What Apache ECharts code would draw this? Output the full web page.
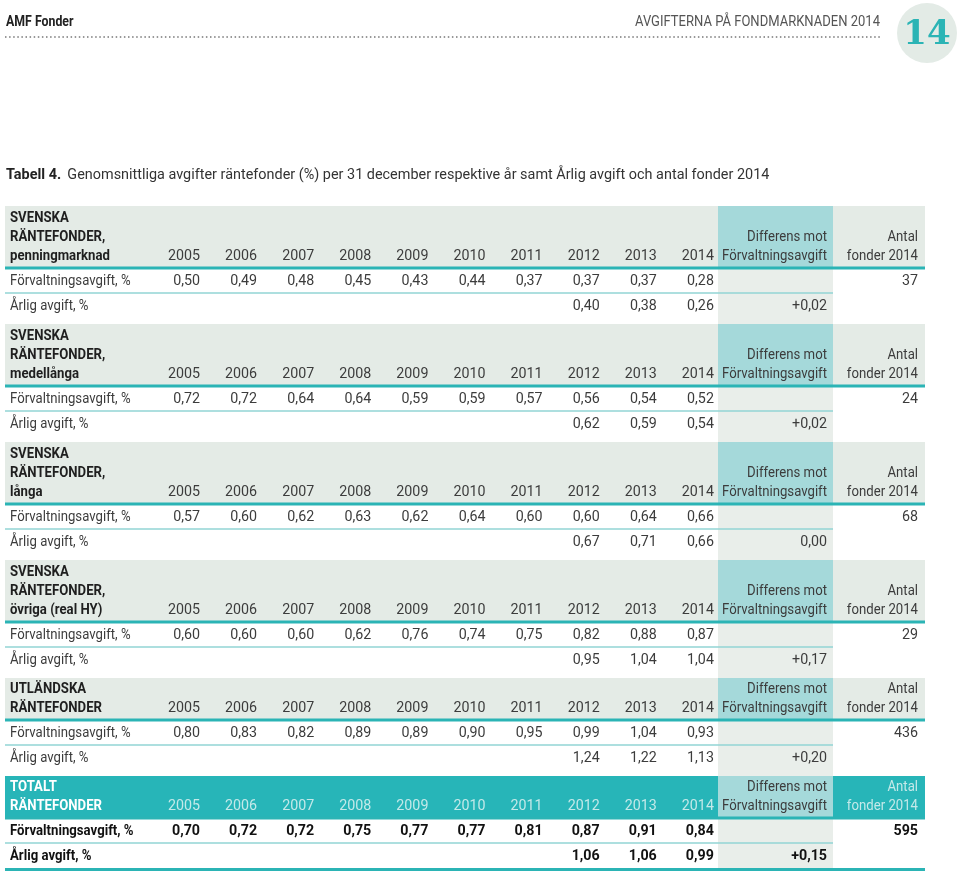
<!DOCTYPE html>
<html><head><meta charset="utf-8">
<script src="https://cdn.jsdelivr.net/npm/echarts@6/dist/echarts.min.js"></script>
<style>html,body{margin:0;padding:0;background:#fff}#c{width:960px;height:874px}</style>
</head><body><div id="c"></div>
<script>
// ---------- data ----------
const years = ['2005','2006','2007','2008','2009','2010','2011','2012','2013','2014'];
const sectionTitles = [
  ['SVENSKA','RÄNTEFONDER,','penningmarknad'],
  ['SVENSKA','RÄNTEFONDER,','medellånga'],
  ['SVENSKA','RÄNTEFONDER,','långa'],
  ['SVENSKA','RÄNTEFONDER,','övriga (real HY)'],
  ['UTLÄNDSKA','RÄNTEFONDER'],
  ['TOTALT','RÄNTEFONDER']
];
const forvPenning   = [0.50,0.49,0.48,0.45,0.43,0.44,0.37,0.37,0.37,0.28];
const forvMedel     = [0.72,0.72,0.64,0.64,0.59,0.59,0.57,0.56,0.54,0.52];
const forvLanga     = [0.57,0.60,0.62,0.63,0.62,0.64,0.60,0.60,0.64,0.66];
const forvOvriga    = [0.60,0.60,0.60,0.62,0.76,0.74,0.75,0.82,0.88,0.87];
const forvUtland    = [0.80,0.83,0.82,0.89,0.89,0.90,0.95,0.99,1.04,0.93];
const forvTotalt    = [0.70,0.72,0.72,0.75,0.77,0.77,0.81,0.87,0.91,0.84];
const arligYears = ['2012','2013','2014'];
const arligPenning = [0.40,0.38,0.26];
const arligMedel   = [0.62,0.59,0.54];
const arligLanga   = [0.67,0.71,0.66];
const arligOvriga  = [0.95,1.04,1.04];
const arligUtland  = [1.24,1.22,1.13];
const arligTotalt  = [1.06,1.06,0.99];
const differens = [0.02,0.02,0.00,0.17,0.20,0.15];
const antalFonder = [37,24,68,29,436,595];
const rowLabels = ['Förvaltningsavgift, %','Årlig avgift, %'];
const diffHeader = ['Differens mot','Förvaltningsavgift'];
const antalHeader = ['Antal','fonder 2014'];
const pageHeaderLeft = 'AMF Fonder';
const pageHeaderRight = 'AVGIFTERNA PÅ FONDMARKNADEN 2014';
const pageNumber = '14';
const tableNo = 'Tabell 4.';
const tableTitle = 'Genomsnittliga avgifter räntefonder (%) per 31 december respektive år samt Årlig avgift och antal fonder 2014';

const forvData = [forvPenning,forvMedel,forvLanga,forvOvriga,forvUtland,forvTotalt];
const arligData = [arligPenning,arligMedel,arligLanga,arligOvriga,arligUtland,arligTotalt];

// ---------- layout ----------
const FONT = 'Roboto, "Noto Sans", sans-serif';
const TEAL = '#2bb4b5';
const L = 5, R = 925, DIFF_L = 718, DIFF_R = 833;
const LABEL_X = 10, DIFF_TX = 827, ANTAL_TX = 918;
const colRight = i => 200 + i * 57.1;
const ROW_H = 25, GAP = 6, LINE_H = 19;
const FS = 15.5, NARROW = 0.85, DIGIT = 0.92;

const fmt = v => v.toFixed(2).replace('.', ',');
const fmtDiff = v => (v > 0 ? '+' : '') + fmt(v);

const els = [];
function txt(x, y, text, opt) {
  opt = opt || {};
  els.push({
    type: 'text', x: x, y: y, z: 10,
    scaleX: opt.sx || 1, originX: 0,
    style: {
      text: text,
      font: (opt.bold ? 'bold ' : '') + (opt.size || FS) + 'px ' + (opt.family || FONT),
      fill: opt.color || '#3c3c3c',
      align: opt.align || 'left', textAlign: opt.align || 'left',
      verticalAlign: 'middle', textVerticalAlign: 'middle'
    }
  });
}
function rect(x, y, w, h, fill, z) {
  els.push({ type: 'rect', z: z || 1, shape: { x: x, y: y, width: w, height: h }, style: { fill: fill } });
}

// page header
txt(6, 22, pageHeaderLeft, { bold: true, size: 14, color: '#222', sx: 0.88 });
txt(880, 22, pageHeaderRight, { size: 14, color: '#555', align: 'right', sx: 0.93 });
els.push({ type: 'line', z: 5, shape: { x1: 5, y1: 37, x2: 880, y2: 37 },
  style: { stroke: '#777', lineWidth: 1.5, lineDash: [1.5, 2.6] } });
els.push({ type: 'circle', z: 1, shape: { cx: 927, cy: 33, r: 30 }, style: { fill: '#e3ebe6' } });
txt(927, 35, pageNumber, { bold: true, size: 34, family: '"DejaVu Serif", serif', color: TEAL, align: 'center' });

// title
els.push({ type: 'text', x: 6, y: 175, z: 10, scaleX: 0.93, originX: 0, style: {
  text: '{b|' + tableNo + '}  {n|' + tableTitle + '}',
  rich: { b: { font: 'bold 15.5px ' + FONT, fill: '#222' }, n: { font: '15.5px ' + FONT, fill: '#333' } },
  verticalAlign: 'middle', textVerticalAlign: 'middle' } });

// sections
let secTop = 206;
sectionTitles.forEach((title, s) => {
  const total = s === sectionTitles.length - 1;
  const hH = title.length === 3 ? 62 : 42;
  const hb = secTop + hH;
  const end = hb + 2 * ROW_H;
  rect(L, secTop, R - L, hH, total ? '#27b5b8' : '#e4ebe6', 1);
  rect(DIFF_L, secTop, DIFF_R - DIFF_L, hH, '#a5d9da', 2);
  rect(DIFF_L, hb, DIFF_R - DIFF_L, total ? 2 * ROW_H : 2 * ROW_H + GAP, '#e9eeea', 1);
  rect(L, hb - 1.5, R - L, 3, TEAL, 4);
  rect(L, hb + ROW_H - 0.75, DIFF_R - L, 1.5, '#92d4d4', 4);
  if (total) rect(L, end, R - L, 3, TEAL, 4);

  const baseY = hb - 12;
  const titleColor = total ? '#ffffff' : '#1f1f1f';
  const lightColor = total ? '#c4e9e9' : '#3c3c3c';
  title.forEach((t, i) => {
    txt(LABEL_X, baseY - (title.length - 1 - i) * LINE_H, t, { bold: true, color: titleColor, sx: NARROW });
  });
  years.forEach((y, i) => txt(colRight(i), baseY, y, { align: 'right', color: lightColor, sx: DIGIT }));
  diffHeader.forEach((t, i) => txt(DIFF_TX, baseY - (diffHeader.length - 1 - i) * LINE_H, t, { align: 'right', color: '#3c3c3c', sx: NARROW }));
  antalHeader.forEach((t, i) => txt(ANTAL_TX, baseY - (antalHeader.length - 1 - i) * LINE_H, t, { align: 'right', color: lightColor, sx: NARROW }));

  const valColor = total ? '#111' : '#3c3c3c';
  const r1 = hb + 13.5, r2 = hb + ROW_H + 13;
  txt(LABEL_X, r1, rowLabels[0], { bold: total, color: valColor, sx: NARROW });
  forvData[s].forEach((v, i) => txt(colRight(i), r1, fmt(v), { align: 'right', bold: total, color: valColor, sx: DIGIT }));
  txt(ANTAL_TX, r1, String(antalFonder[s]), { align: 'right', bold: total, color: valColor, sx: DIGIT });
  txt(LABEL_X, r2, rowLabels[1], { bold: total, color: valColor, sx: NARROW });
  arligData[s].forEach((v, i) => {
    const ci = years.indexOf(arligYears[i]);
    txt(colRight(ci), r2, fmt(v), { align: 'right', bold: total, color: valColor, sx: DIGIT });
  });
  txt(DIFF_TX, r2, fmtDiff(differens[s]), { align: 'right', bold: total, color: valColor, sx: DIGIT });

  secTop = end + GAP;
});

const chart = echarts.init(document.getElementById('c'), null, { renderer: 'canvas' });
chart.setOption({ animation: false, backgroundColor: '#fff', graphic: { elements: els } });
</script>
</body></html>
